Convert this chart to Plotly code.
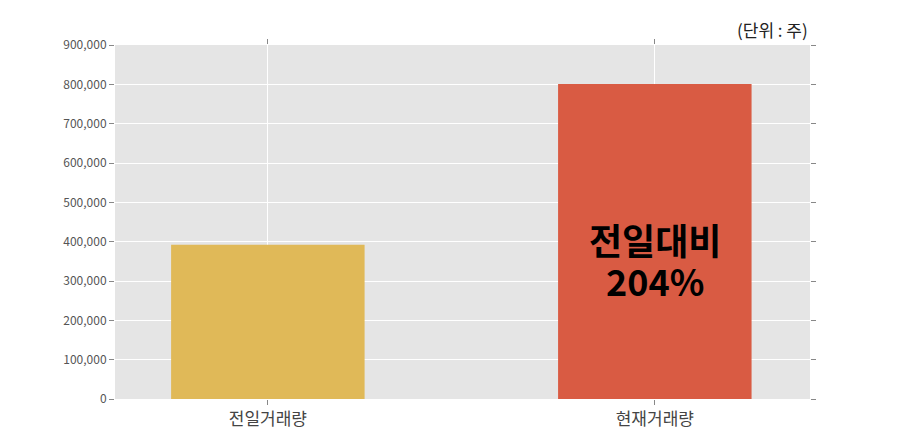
import plotly.graph_objects as go

categories = ["전일거래량", "현재거래량"]
volumes = [392000, 801000]
colors = ["#e0b958", "#d95b43"]
tick_vals = [0, 100000, 200000, 300000, 400000, 500000, 600000, 700000, 800000, 900000]
label_lines = ["전일대비", "204%"]

fig = go.Figure(go.Bar(x=[0, 1], y=volumes, width=0.5, marker=dict(color=colors, line_width=0)))

for i, line in enumerate(label_lines):
    fig.add_annotation(x=1, y=volumes[1] * 0.44, yshift=21 - 41 * i, text="<b>" + line + "</b>",
                       showarrow=False,
                       font=dict(size=36, color="black", family="Noto Sans CJK KR"))
fig.add_annotation(x=1, xref="paper", y=1.0, yref="paper", yanchor="bottom", xanchor="right",
                   yshift=1, text="(단위 : 주)", showarrow=False,
                   font=dict(size=17, color="#222", family="Noto Sans CJK KR"))

fig.update_layout(
    width=900, height=443,
    margin=dict(l=107, r=98, t=37, b=52),
    paper_bgcolor="white", plot_bgcolor="#e5e5e5",
    showlegend=False,
    font=dict(family="Noto Sans CJK KR"),
    xaxis=dict(range=[-0.395, 1.401], tickvals=[0, 1], ticktext=categories,
               tickfont=dict(size=17, color="#444"), showgrid=True, gridcolor="white",
               ticks="outside", ticklen=5, tickcolor="#888", mirror="ticks", zeroline=False),
    yaxis=dict(range=[0, 900000], tickvals=tick_vals, tickformat=",", showgrid=True,
               gridcolor="white", tickfont=dict(size=12, color="#555"),
               ticks="outside", ticklen=5, tickcolor="#888", mirror="ticks", zeroline=False),
)

fig.write_html("out.html")
